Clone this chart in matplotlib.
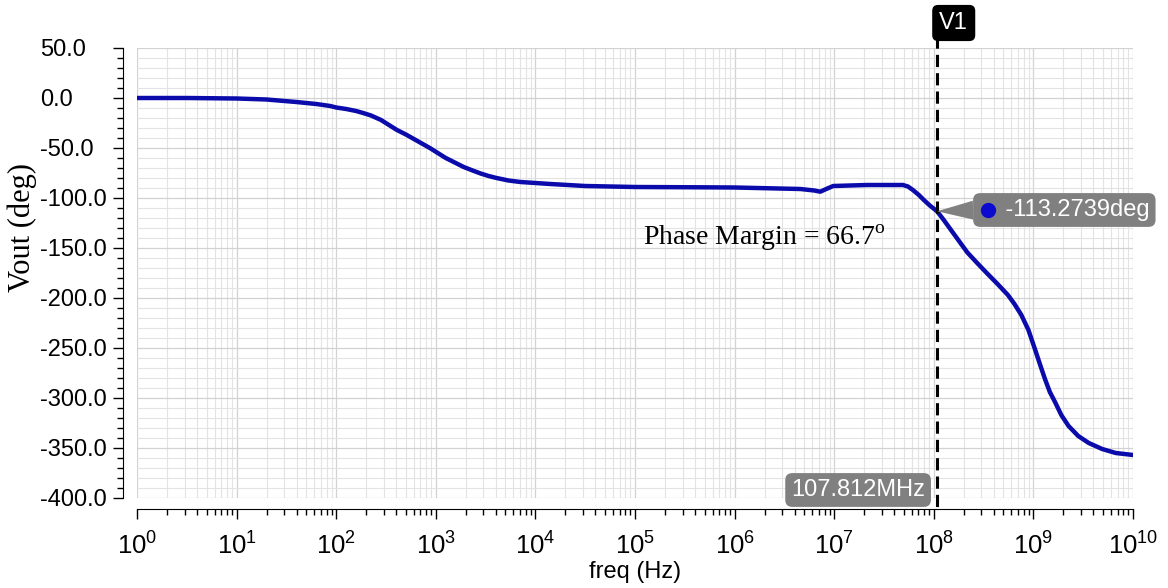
import numpy as np
import matplotlib
matplotlib.use("Agg")
import matplotlib.pyplot as plt

plt.rcParams['font.family'] = ['Liberation Sans', 'DejaVu Sans']
plt.rcParams['mathtext.fontset'] = 'custom'
plt.rcParams['mathtext.rm'] = 'Liberation Serif'

# phase response: log10(freq in Hz) and phase in deg
log_freq = [0.0, 0.5, 1.0, 1.3, 1.6, 1.8, 1.94, 2.0, 2.1, 2.2, 2.27, 2.35, 2.45,
            2.53, 2.61, 2.7, 2.78, 2.86, 2.94, 3.02, 3.1, 3.19, 3.28, 3.37,
            3.45, 3.53, 3.61, 3.73, 3.85, 4.0, 4.15, 4.5, 5.0, 5.65, 6.0,
            6.66, 6.8, 6.86, 6.92, 6.99, 7.33, 7.69, 7.74, 7.79, 7.85, 7.9,
            7.96, 8.0327, 8.1, 8.18, 8.26, 8.337, 8.44, 8.541, 8.64, 8.744,
            8.81, 8.879, 8.95, 9.015, 9.065, 9.116, 9.165, 9.217, 9.28, 9.353,
            9.45, 9.556, 9.69, 9.827, 10.0]
phase = [0.0, 0.0, -0.5, -1.5, -4, -6, -8, -9.5, -11, -13, -15, -17.5, -22,
         -27, -32, -36.5, -41, -45.5, -50, -55, -60, -64.5, -69, -72.5,
         -75.5, -78, -80, -82.5, -84, -85, -86, -88, -89, -89.3, -89.5,
         -91, -92.5, -93.7, -91, -88, -87, -87, -88.5, -92, -97, -102,
         -107.5, -113.27, -122, -133, -144, -154.5, -165.5, -176, -186, -197,
         -206, -217, -232, -251, -266, -281, -294, -304, -317, -328,
         -338, -345, -351, -355, -357]
freq = [10 ** e for e in log_freq]

cursor_freq = 1.07812e8
cursor_phase = -113.2739
cursor_label = "V1"
freq_label = "107.812MHz"
phase_label = "-113.2739deg"
note = "Phase Margin = 66.7$^{\\mathrm{o}}$"

fig = plt.figure(figsize=(11.68, 5.88), dpi=100)
ax = fig.add_axes([137/1168, 1 - 498/588, 996/1168, 450/588])

ax.plot(freq, phase, color='#0b0bab', lw=3.2, zorder=4, solid_capstyle='round',
        solid_joinstyle='round')

ax.set_xscale('log')
ax.set_xlim(1, 1e10)
ax.set_ylim(-400, 50)
ax.set_yticks(np.arange(-400, 51, 50))
ax.set_yticks(np.arange(-400, 51, 10), minor=True)
ax.set_yticklabels([f"{v:.1f}" for v in np.arange(-400, 51, 50)])
ax.xaxis.set_major_locator(matplotlib.ticker.LogLocator(base=10, numticks=20))
ax.xaxis.set_minor_locator(matplotlib.ticker.LogLocator(base=10, subs=np.arange(2, 10), numticks=20))
ax.xaxis.set_minor_formatter(matplotlib.ticker.NullFormatter())

ax.grid(True, which='major', color='#d2d2d2', lw=0.9)
ax.grid(True, which='minor', color='#e3e3e3', lw=0.8)
ax.set_axisbelow(True)

for s in ['top', 'right']:
    ax.spines[s].set_visible(False)
ax.spines['left'].set_position(('outward', 10))
ax.spines['bottom'].set_position(('outward', 8))

ax.tick_params(axis='y', which='major', direction='out', length=7, width=1, labelsize=17, pad=52.5)
ax.tick_params(axis='y', which='minor', direction='out', length=4.5, width=1)
ax.tick_params(axis='x', which='major', direction='out', length=7, width=1, labelsize=18.5, pad=10)
ax.tick_params(axis='x', which='minor', direction='out', length=4, width=1)
for lab in ax.get_yticklabels():
    lab.set_ha('left')

ax.set_ylabel("Vout (deg)", family='Liberation Serif', fontsize=22)
ax.yaxis.set_label_coords(-0.1, 0.602)
ax.set_xlabel("freq (Hz)", fontsize=17)
ax.xaxis.set_label_coords(0.5, -0.14)

# cursor line
ax.plot([cursor_freq, cursor_freq], [62, -410], color='black', lw=2.2,
        ls=(0, (4, 2)), clip_on=False, zorder=5)
ax.text(10**8.2, 75, cursor_label, color='white', fontsize=17, ha='center', va='center',
        bbox=dict(boxstyle='round,pad=0.3,rounding_size=0.25', fc='black', ec='none'),
        clip_on=False, zorder=6)

ax.text(10**7.912, -392, freq_label, color='white', fontsize=17, ha='right', va='center',
        bbox=dict(boxstyle='round,pad=0.25,rounding_size=0.3', fc='#808080', ec='none'),
        clip_on=False, zorder=6)

ax.annotate("    " + phase_label, xy=(cursor_freq, cursor_phase), xytext=(10**8.454, -112),
            textcoords='data', color='white', fontsize=17, ha='left', va='center',
            bbox=dict(boxstyle='round,pad=0.25,rounding_size=0.3', fc='#808080', ec='none'),
            arrowprops=dict(arrowstyle='wedge,tail_width=0.8,shrink_factor=0.5', fc='#808080',
                            ec='none', relpos=(0, 0.5), shrinkA=0, shrinkB=0),
            annotation_clip=False, zorder=6)
ax.plot([10**8.544], [-112], 'o', color='#0b0bd0', ms=10, zorder=7, clip_on=False)

ax.text(10**5.08, -140, note, family='Liberation Serif', fontsize=20, ha='left', va='center', zorder=6)

fig.savefig("out.png", dpi=100)
